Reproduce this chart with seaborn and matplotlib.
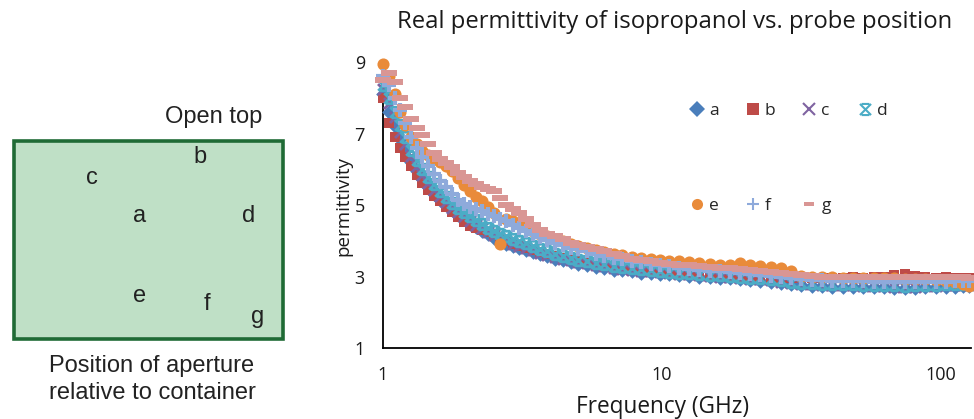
import matplotlib
matplotlib.use("Agg")
import matplotlib.pyplot as plt
from matplotlib.patches import Rectangle
from matplotlib.path import Path
from matplotlib.lines import Line2D
import pandas as pd
import seaborn as sns

# ---------------------------------------------------------------- data
FREQ_GHZ = [
    1.00, 1.05, 1.10, 1.15, 1.20, 1.26, 1.32, 1.38,
    1.45, 1.52, 1.60, 1.68, 1.76, 1.85, 1.95, 2.05,
    2.15, 2.26, 2.38, 2.50, 2.63, 2.77, 2.92, 3.08,
    3.25, 3.45, 3.65, 3.88, 4.12, 4.40, 4.70, 5.0,
    5.4, 5.8, 6.2, 6.7, 7.2, 7.8, 8.4, 9.1,
    9.8, 10.6, 11.5, 12.5, 13.6, 14.8, 16.1, 17.5,
    19.0, 20.7, 22.5, 24.5, 26.7, 29.0, 31.6, 34.4,
    37.5, 40.8, 44.4, 48.4, 52.7, 57.4, 62.5, 68.0,
    74.0, 80.6, 87.8, 95.6, 104, 112, 120, 126,
]

EPS_A = [
    8.10, 7.60, 7.20, 6.85, 6.50, 6.20, 5.95, 5.72,
    5.50, 5.32, 5.15, 5.00, 4.85, 4.72, 4.60, 4.48,
    4.38, 4.28, 4.18, 4.08, 3.98, 3.92, 3.86, 3.80,
    3.74, 3.68, 3.62, 3.56, 3.50, 3.45, 3.40, 3.36,
    3.32, 3.27, 3.25, 3.19, 3.17, 3.15, 3.11, 3.10,
    3.08, 3.06, 3.04, 3.02, 3.00, 2.98, 2.96, 2.95,
    2.93, 2.91, 2.88, 2.85, 2.82, 2.79, 2.76, 2.74,
    2.73, 2.72, 2.72, 2.71, 2.71, 2.70, 2.70, 2.68,
    2.67, 2.69, 2.70, 2.71, 2.72, 2.72, 2.73, 2.73,
]
EPS_B = [
    8.00, 7.30, 6.90, 6.60, 6.35, 6.10, 5.85, 5.62,
    5.42, 5.25, 5.10, 4.95, 4.80, 4.66, 4.52, 4.42,
    4.35, 4.30, 4.25, 4.18, 4.08, 3.98, 3.92, 3.86,
    3.80, 3.74, 3.68, 3.62, 3.56, 3.51, 3.46, 3.42,
    3.38, 3.34, 3.31, 3.27, 3.24, 3.21, 3.18, 3.16,
    3.14, 3.12, 3.10, 3.08, 3.06, 3.04, 3.02, 3.01,
    3.00, 2.99, 2.98, 2.97, 2.96, 2.95, 2.95, 2.95,
    2.96, 2.97, 2.96, 2.98, 2.97, 2.99, 2.98, 3.04,
    3.07, 3.02, 2.98, 2.97, 2.99, 2.97, 2.96, 2.95,
]
EPS_C = [
    8.25, 7.85, 7.45, 7.05, 6.70, 6.38, 6.10, 5.85,
    5.62, 5.42, 5.25, 5.08, 4.93, 4.80, 4.68, 4.56,
    4.45, 4.35, 4.25, 4.15, 4.05, 3.98, 3.92, 3.86,
    3.80, 3.73, 3.67, 3.61, 3.55, 3.50, 3.45, 3.41,
    3.37, 3.32, 3.28, 3.25, 3.22, 3.19, 3.16, 3.14,
    3.12, 3.10, 3.08, 3.06, 3.04, 3.02, 3.00, 2.98,
    2.96, 2.94, 2.92, 2.89, 2.86, 2.83, 2.80, 2.78,
    2.77, 2.76, 2.75, 2.75, 2.74, 2.74, 2.73, 2.72,
    2.71, 2.72, 2.73, 2.74, 2.75, 2.75, 2.76, 2.76,
]
EPS_D = [
    8.35, 8.00, 7.60, 7.25, 6.90, 6.55, 6.25, 6.00,
    5.78, 5.58, 5.40, 5.22, 5.06, 4.92, 4.80, 4.68,
    4.57, 4.47, 4.37, 4.28, 4.18, 4.12, 4.06, 4.00,
    3.93, 3.86, 3.78, 3.71, 3.64, 3.58, 3.52, 3.47,
    3.43, 3.38, 3.34, 3.30, 3.26, 3.23, 3.20, 3.18,
    3.16, 3.13, 3.11, 3.09, 3.07, 3.05, 3.03, 3.01,
    2.99, 2.97, 2.95, 2.92, 2.89, 2.86, 2.83, 2.81,
    2.80, 2.79, 2.78, 2.78, 2.77, 2.77, 2.76, 2.75,
    2.74, 2.75, 2.76, 2.77, 2.78, 2.78, 2.79, 2.79,
]
EPS_E = [
    8.95, 8.60, 8.10, 7.60, 7.25, 6.90, 6.70, 6.50,
    6.40, 6.30, 6.20, 6.10, 5.95, 5.75, 5.55, 5.38,
    5.22, 5.10, 4.95, 4.78, 3.90, 4.62, 4.55, 4.48,
    4.38, 4.28, 4.20, 4.13, 4.06, 3.99, 3.92, 3.85,
    3.79, 3.73, 3.68, 3.63, 3.60, 3.55, 3.52, 3.49,
    3.46, 3.44, 3.42, 3.40, 3.37, 3.35, 3.32, 3.32,
    3.37, 3.33, 3.30, 3.26, 3.25, 3.15, 3.02, 2.99,
    2.98, 2.98, 2.97, 2.97, 2.96, 2.96, 2.95, 2.95,
    2.94, 2.93, 2.92, 2.90, 2.88, 2.84, 2.78, 2.74,
]
EPS_F = [
    8.60, 8.35, 8.00, 7.65, 7.30, 6.90, 6.60, 6.35,
    6.10, 5.88, 5.68, 5.50, 5.30, 5.15, 5.02, 4.95,
    4.88, 4.82, 4.76, 4.70, 4.62, 4.55, 4.45, 4.36,
    4.27, 4.18, 4.10, 4.02, 3.94, 3.87, 3.81, 3.76,
    3.70, 3.64, 3.58, 3.53, 3.48, 3.44, 3.40, 3.36,
    3.32, 3.28, 3.25, 3.22, 3.19, 3.16, 3.14, 3.12,
    3.10, 3.08, 3.05, 3.02, 2.99, 2.96, 2.92, 2.90,
    2.89, 2.88, 2.88, 2.87, 2.87, 2.86, 2.86, 2.86,
    2.85, 2.85, 2.86, 2.86, 2.86, 2.87, 2.87, 2.87,
]
EPS_G = [
    8.50, 8.70, 8.45, 8.00, 7.75, 7.40, 7.15, 6.95,
    6.70, 6.45, 6.30, 6.18, 6.05, 5.90, 5.78, 5.68,
    5.58, 5.50, 5.44, 5.38, 5.20, 5.00, 4.90, 4.78,
    4.62, 4.45, 4.30, 4.20, 4.12, 4.05, 3.95, 3.88,
    3.82, 3.76, 3.70, 3.62, 3.57, 3.50, 3.46, 3.42,
    3.38, 3.35, 3.33, 3.31, 3.29, 3.27, 3.25, 3.23,
    3.21, 3.19, 3.16, 3.13, 3.10, 3.07, 3.03, 3.01,
    3.00, 2.99, 2.99, 2.98, 2.99, 2.98, 2.99, 3.00,
    2.99, 2.98, 2.99, 2.98, 2.99, 2.98, 2.98, 2.97,
]

POSITIONS = ["a", "b", "c", "d", "e", "f", "g"]
X_TICKS = [1, 10, 100]
X_TICK_LABELS = ["1", "10", "100"]
Y_TICKS = [1, 3, 5, 7, 9]

# ---------------------------------------------------------------- styles
# x marker with short horizontal bars (star-like spreadsheet marker)
STAR_BAR = Path(
    [(-1, -1), (1, 1), (-1, 1), (1, -1), (-0.7, 1), (0.7, 1), (-0.7, -1), (0.7, -1)],
    [Path.MOVETO, Path.LINETO, Path.MOVETO, Path.LINETO,
     Path.MOVETO, Path.LINETO, Path.MOVETO, Path.LINETO],
)
DASH = Path([(-1, -0.33), (1, -0.33), (1, 0.33), (-1, 0.33), (-1, -0.33)])

STYLE = {
    "a": dict(color="#4A7EBB", marker="D", s=56, lw=0),
    "b": dict(color="#BE4B48", marker="s", s=58, lw=0),
    "c": dict(color="#7F63A1", marker="x", s=62, lw=2.0),
    "d": dict(color="#4BACC6", marker=STAR_BAR, s=58, lw=2.0),
    "e": dict(color="#E98B3A", marker="o", s=76, lw=0),
    "f": dict(color="#8EAADB", marker="+", s=115, lw=3.0),
    "g": dict(color="#D99694", marker=DASH, s=120, lw=0),
}

SERIES = dict(zip(POSITIONS, [EPS_A, EPS_B, EPS_C, EPS_D, EPS_E, EPS_F, EPS_G]))
frames = [pd.DataFrame({"freq": FREQ_GHZ, "eps": v, "pos": k}) for k, v in SERIES.items()]
df = pd.concat(frames, ignore_index=True)

# ---------------------------------------------------------------- figure
sns.set_theme(style="white")
plt.rcParams["font.family"] = ["Open Sans", "DejaVu Sans"]

W, H = 974, 419
fig = plt.figure(figsize=(W / 100, H / 100), dpi=100)

# container sketch on the left, laid out in pixel units
ax0 = fig.add_axes([0, 0, 1, 1])
ax0.set_xlim(0, W)
ax0.set_ylim(H, 0)
ax0.axis("off")
ax0.add_patch(Rectangle((14, 141), 269, 198, facecolor="#BFE0C6",
                        edgecolor="#1F6B35", linewidth=2.6))
sketch_font = dict(family=["Liberation Sans", "DejaVu Sans"], fontsize=17,
                   color="#222222", ha="center", va="center")
ax0.text(214, 117, "Open top", **sketch_font)
for lbl, (px, py) in {"c": (92, 178), "b": (200, 157), "a": (140, 216),
                      "d": (249, 216), "e": (140, 296), "f": (207, 304),
                      "g": (258, 317)}.items():
    ax0.text(px, py, lbl, **sketch_font)
ax0.text(152, 366, "Position of aperture", **sketch_font)
ax0.text(152, 393, "relative to container", **sketch_font)

# permittivity chart
L, R, T, B = 383, 971, 62, 348
ax = fig.add_axes([L / W, 1 - B / H, (R - L) / W, (B - T) / H])
for name in POSITIONS:
    st = STYLE[name]
    sns.scatterplot(data=df[df["pos"] == name], x="freq", y="eps", ax=ax,
                    marker=st["marker"], s=st["s"], color=st["color"],
                    edgecolor=st["color"], linewidth=st["lw"], legend=False,
                    clip_on=False, zorder=3)

ax.set_xscale("log")
ax.set_xlim(1, 128)
ax.set_ylim(1, 9)
ax.set_xticks(X_TICKS)
ax.set_xticklabels(X_TICK_LABELS)
ax.xaxis.set_minor_locator(matplotlib.ticker.NullLocator())
ax.set_yticks(Y_TICKS)
ax.set_xlabel("")
ax.set_ylabel("")
for side in ("top", "right"):
    ax.spines[side].set_visible(False)
for side in ("left", "bottom"):
    ax.spines[side].set_color("black")
    ax.spines[side].set_linewidth(1.3)
ax.tick_params(axis="both", direction="out", length=5, width=1.3,
               color="black", labelsize=13, labelcolor="#1a1a1a")
ax.tick_params(axis="x", pad=8)
ax.tick_params(axis="y", pad=8)
ax.set_facecolor("none")

fig.text(675 / W, 1 - 22 / H, "Real permittivity of isopropanol vs. probe position",
         ha="center", va="center", fontsize=17.2, color="#1a1a1a")
fig.text(663 / W, 1 - 407 / H, "Frequency (GHz)", ha="center", va="center",
         fontsize=16.3, color="#1a1a1a")
fig.text(343 / W, 1 - 206 / H, "permittivity", ha="center", va="center",
         rotation=90, fontsize=13.5, color="#1a1a1a")

# legend: two rows, filled column by column
handles = {}
for name in POSITIONS:
    st = STYLE[name]
    filled = name in ("a", "b", "e", "g")
    handles[name] = Line2D([], [], linestyle="none", marker=st["marker"],
                           markersize=8 if name != "g" else 7,
                           color=st["color"],
                           markeredgewidth=0 if filled else 1.5)
order = ["a", "e", "b", "f", "c", "g", "d"]
fig.legend([handles[k] for k in order], order, ncol=4, loc="upper left",
           bbox_to_anchor=(690 / W, 1 - 103 / H), frameon=False,
           fontsize=12.5, handlelength=0.8, handletextpad=0.3,
           columnspacing=1.55, labelspacing=4.55, borderpad=0, borderaxespad=0)

fig.savefig("out.png", dpi=100)
